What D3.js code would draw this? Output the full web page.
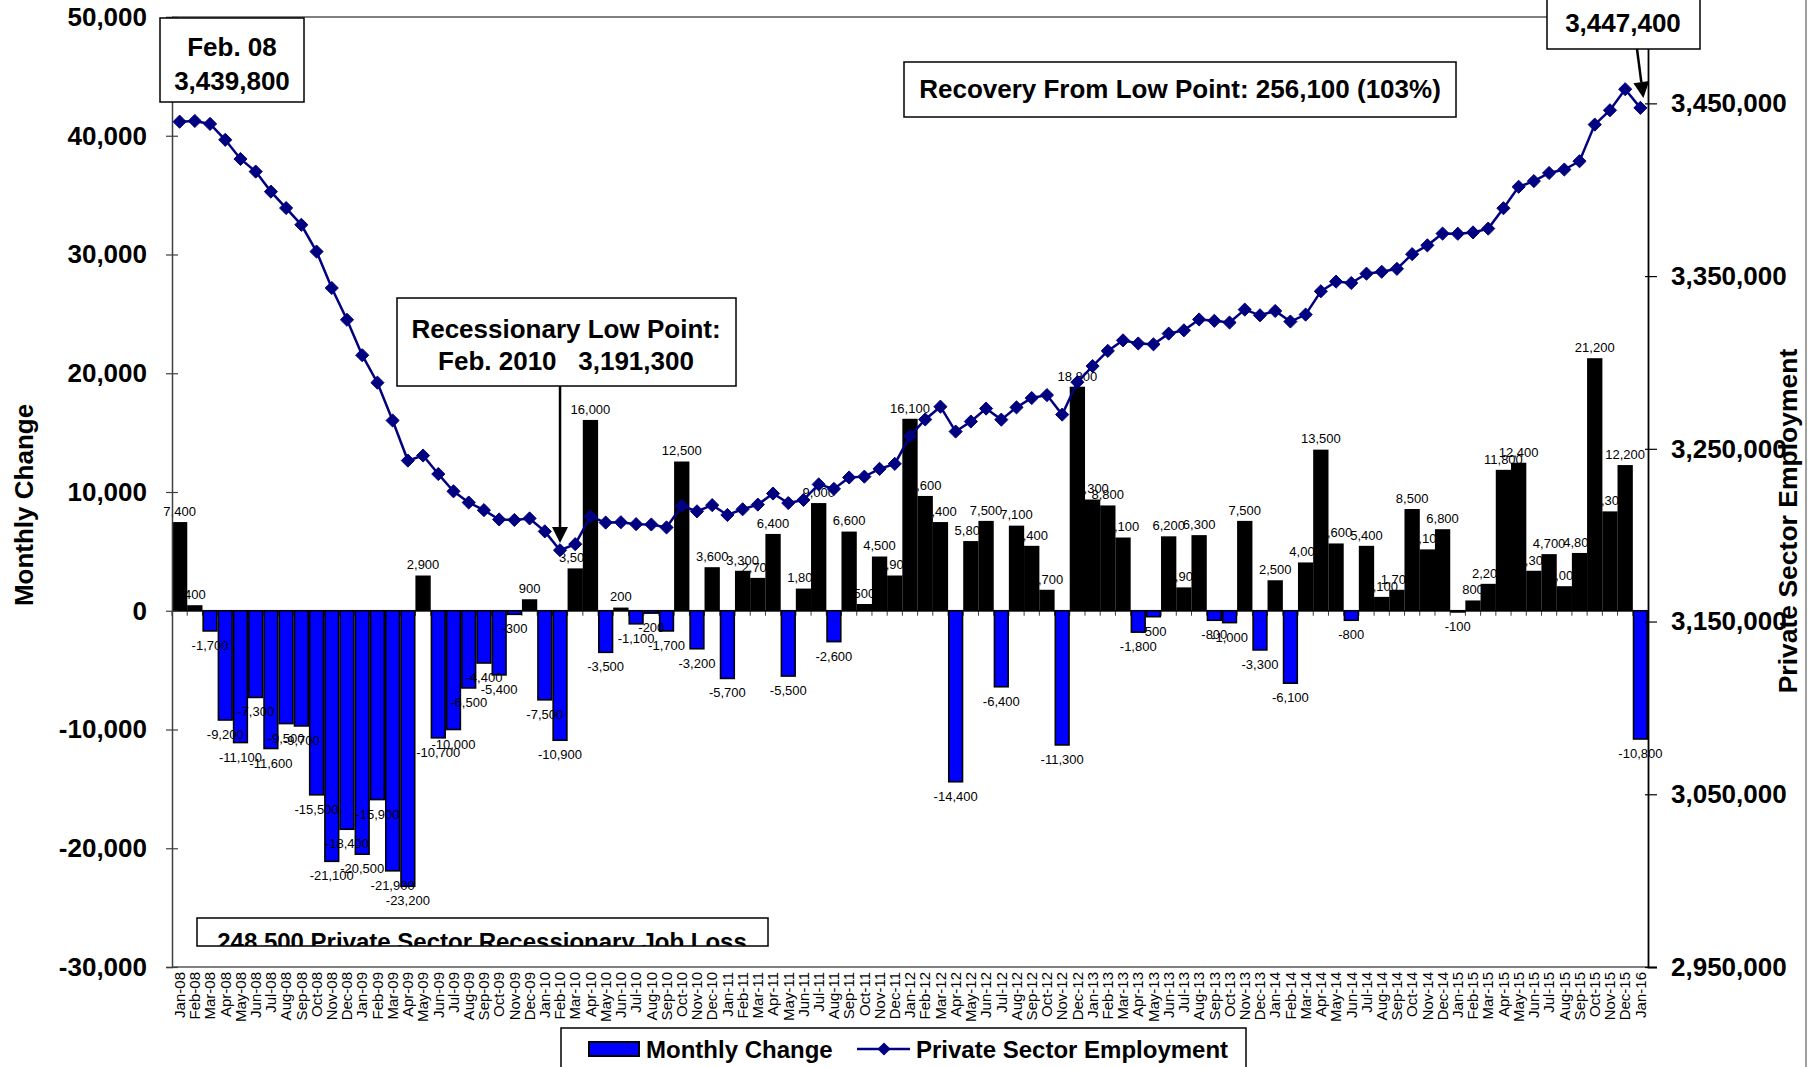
<!DOCTYPE html>
<html><head><meta charset="utf-8">
<script src="https://cdn.jsdelivr.net/npm/d3@7"></script>
<style>
body{margin:0;background:#fff;}
svg{display:block;font-family:"Liberation Sans",Arial,sans-serif;}
</style></head>
<body>
<svg id="chart" width="1814" height="1067"></svg>
<script>
const months = ["Jan-08","Feb-08","Mar-08","Apr-08","May-08","Jun-08","Jul-08","Aug-08","Sep-08","Oct-08","Nov-08","Dec-08",
"Jan-09","Feb-09","Mar-09","Apr-09","May-09","Jun-09","Jul-09","Aug-09","Sep-09","Oct-09","Nov-09","Dec-09",
"Jan-10","Feb-10","Mar-10","Apr-10","May-10","Jun-10","Jul-10","Aug-10","Sep-10","Oct-10","Nov-10","Dec-10",
"Jan-11","Feb-11","Mar-11","Apr-11","May-11","Jun-11","Jul-11","Aug-11","Sep-11","Oct-11","Nov-11","Dec-11",
"Jan-12","Feb-12","Mar-12","Apr-12","May-12","Jun-12","Jul-12","Aug-12","Sep-12","Oct-12","Nov-12","Dec-12",
"Jan-13","Feb-13","Mar-13","Apr-13","May-13","Jun-13","Jul-13","Aug-13","Sep-13","Oct-13","Nov-13","Dec-13",
"Jan-14","Feb-14","Mar-14","Apr-14","May-14","Jun-14","Jul-14","Aug-14","Sep-14","Oct-14","Nov-14","Dec-14",
"Jan-15","Feb-15","Mar-15","Apr-15","May-15","Jun-15","Jul-15","Aug-15","Sep-15","Oct-15","Nov-15","Dec-15",
"Jan-16"];

const monthlyChange = [7400,400,-1700,-9200,-11100,-7300,-11600,-9500,-9700,-15500,-21100,-18400,
-20500,-15900,-21900,-23200,2900,-10700,-10000,-6500,-4400,-5400,-300,900,
-7500,-10900,3500,16000,-3500,200,-1100,-200,-1700,12500,-3200,3600,
-5700,3300,2700,6400,-5500,1800,9000,-2600,6600,500,4500,2900,
16100,9600,7400,-14400,5800,7500,-6400,7100,5400,1700,-11300,18800,
9300,8800,6100,-1800,-500,6200,1900,6300,-800,-1000,7500,-3300,
2500,-6100,4000,13500,5600,-800,5400,1100,1700,8500,5100,6800,
-100,800,2200,11800,12400,3300,4700,2000,4800,21200,8300,12200,
-10800];

const employment = [3439400,3439800,3438100,3428900,3417800,3410500,3398900,3389400,3379700,3364200,3343100,3324700,
3304200,3288300,3266400,3243200,3246100,3235400,3225400,3218900,3214500,3209100,3208800,3209700,
3202200,3191300,3194800,3210800,3207300,3207500,3206400,3206200,3204500,3217000,3213800,3217400,
3211700,3215000,3217700,3224100,3218600,3220400,3229400,3226800,3233400,3233900,3238400,3241300,
3257400,3267000,3274400,3260000,3265800,3273300,3266900,3274000,3279400,3281100,3269800,3288600,
3297900,3306700,3312800,3311000,3310500,3316700,3318600,3324900,3324100,3323100,3330600,3327300,
3329800,3323700,3327700,3341200,3346800,3346000,3351400,3352500,3354200,3362700,3367800,3374600,
3374500,3375300,3377500,3389300,3401700,3405000,3409700,3411700,3416500,3437700,3446000,3458200,
3447400];

const leftTicks = [-30000,-20000,-10000,0,10000,20000,30000,40000,50000];
const rightTicks = [2950000,3050000,3150000,3250000,3350000,3450000];

const seriesNames = ["Monthly Change","Private Sector Employment"];
const titleLeft = "Monthly Change";
const titleRight = "Private Sector Employment";
const noteStart = ["Feb. 08","3,439,800"];
const noteLow = ["Recessionary Low Point:","Feb. 2010   3,191,300"];
const noteRecovery = "Recovery From Low Point: 256,100 (103%)";
const noteEnd = ["Jan. 16","3,447,400"];
const noteLoss = "248,500 Private Sector Recessionary Job Loss";

const loc = d3.formatLocale({decimal:".",thousands:",",grouping:[3],currency:["$",""],minus:"-"});
const fmt = loc.format(",");

const svg = d3.select("#chart");
const L=172, R=1648, T=17, B=967;
const BLUE="#0000FF", NAVY="#000080";

const x = d3.scaleBand().domain(months).range([L,R]).padding(0);
const yL = d3.scaleLinear().domain([-30000,50000]).range([B,T]);
const yR = d3.scaleLinear().domain([2950000,3500000]).range([B,T]);

// outer chart border (right)
svg.append("line").attr("x1",1806).attr("x2",1806).attr("y1",0).attr("y2",1067).attr("stroke","#808080").attr("stroke-width",1.5);

// plot frame top/bottom
svg.append("line").attr("x1",L).attr("x2",R).attr("y1",T).attr("y2",T).attr("stroke","#808080").attr("stroke-width",2);
svg.append("line").attr("x1",L).attr("x2",R).attr("y1",B).attr("y2",B).attr("stroke","#808080").attr("stroke-width",2);

const data = months.map((m,i)=>({m, v:monthlyChange[i], e:employment[i]}));

// zero category line with ticks
const y0 = yL(0);
svg.append("line").attr("x1",L).attr("x2",R).attr("y1",y0).attr("y2",y0).attr("stroke","#606060").attr("stroke-width",1.5);
svg.append("g").selectAll("line").data(months.concat(["__end"])).join("line")
  .attr("x1",(d,i)=>i<months.length?x(d):R).attr("x2",(d,i)=>i<months.length?x(d):R)
  .attr("y1",y0).attr("y2",y0+5).attr("stroke","#404040").attr("stroke-width",1);

// bars
svg.append("g").selectAll("rect").data(data).join("rect")
  .attr("x",d=>x(d.m)+0.75).attr("width",x.bandwidth()-1.5)
  .attr("y",d=>Math.min(yL(d.v),y0)).attr("height",d=>Math.abs(yL(d.v)-y0))
  .attr("fill",d=>d.v>=0?"#000":BLUE).attr("stroke","#000").attr("stroke-width",1.6);

// bar labels (on top of bars; invisible where they cross black bars)
svg.append("g").selectAll("text").data(data).join("text")
  .attr("x",d=>x(d.m)+x.bandwidth()/2)
  .attr("y",d=>d.v>=0 ? yL(d.v)-7 : yL(d.v)+19)
  .attr("text-anchor","middle").attr("font-size",13).attr("fill","#000")
  .text(d=>fmt(d.v));

// left axis
const axL = svg.append("g").attr("transform",`translate(${L},0)`)
  .call(d3.axisLeft(yL).tickValues(leftTicks).tickFormat(fmt).tickSize(6).tickPadding(19));
axL.select(".domain").attr("stroke","#404040").attr("stroke-width",1.5);
axL.selectAll(".tick line").attr("x1",6).attr("stroke","#404040").attr("stroke-width",1.2);
axL.selectAll(".tick text").attr("font-size",26).attr("font-weight","bold").attr("font-family","Liberation Sans, Arial").attr("fill","#000");

// right axis
const axR = svg.append("g").attr("transform",`translate(${R},0)`)
  .call(d3.axisRight(yR).tickValues(rightTicks).tickFormat(fmt).tickSize(9).tickPadding(14));
axR.select(".domain").attr("stroke","#000").attr("stroke-width",1.8);
axR.selectAll(".tick line").attr("x1",-3).attr("stroke","#000").attr("stroke-width",1.2);
axR.selectAll(".tick text").attr("font-size",26).attr("font-weight","bold").attr("font-family","Liberation Sans, Arial").attr("fill","#000");

// bottom category labels
const axB = svg.append("g").attr("transform",`translate(0,${B})`)
  .call(d3.axisBottom(x).tickSize(0));
axB.select(".domain").remove();
axB.selectAll(".tick text").attr("transform","rotate(-90)").attr("text-anchor","end")
  .attr("x",-5).attr("y",0).attr("dy","0.35em")
  .attr("font-size",15).attr("font-family","Liberation Sans, Arial").attr("fill","#000");

// employment line
const line = d3.line().x(d=>x(d.m)+x.bandwidth()/2).y(d=>yR(d.e));
svg.append("path").datum(data).attr("d",line).attr("fill","none").attr("stroke",NAVY).attr("stroke-width",2.5);
const diamond = d3.symbol().type(d3.symbolDiamond2).size(110);
svg.append("g").selectAll("path").data(data).join("path")
  .attr("transform",d=>`translate(${x(d.m)+x.bandwidth()/2},${yR(d.e)})`)
  .attr("d",diamond).attr("fill",NAVY).attr("stroke",NAVY).attr("stroke-width",1);

// axis titles
svg.append("text").attr("transform","translate(33,505) rotate(-90)").attr("text-anchor","middle")
  .attr("font-size",26).attr("font-weight","bold").text(titleLeft);
svg.append("text").attr("transform","translate(1797,521) rotate(-90)").attr("text-anchor","middle")
  .attr("font-size",26.5).attr("font-weight","bold").text(titleRight);

// annotation helpers
function box(x0,y0,w,h){
  return svg.append("rect").attr("x",x0).attr("y",y0).attr("width",w).attr("height",h)
    .attr("fill","#fff").attr("stroke","#000").attr("stroke-width",1.5);
}
function label(tx,ty,t,size){
  return svg.append("text").attr("x",tx).attr("y",ty).attr("text-anchor","middle")
    .attr("font-size",size||26).attr("font-weight","bold").style("white-space","pre").text(t);
}
function arrow(x1,y1,x2,y2){
  const ang=Math.atan2(y2-y1,x2-x1), hl=16, hw=8;
  const bx=x2-hl*Math.cos(ang), by=y2-hl*Math.sin(ang);
  svg.append("line").attr("x1",x1).attr("y1",y1).attr("x2",bx).attr("y2",by).attr("stroke","#000").attr("stroke-width",2.5);
  const px=-Math.sin(ang)*hw, py=Math.cos(ang)*hw;
  svg.append("path").attr("d",`M${x2},${y2}L${bx+px},${by+py}L${bx-px},${by-py}Z`).attr("fill","#000");
}

// Feb 08
box(160,18,144,84);
label(232,56,noteStart[0]);
label(232,90,noteStart[1]);

// Recessionary low
box(397,298,339,88);
label(566,338,noteLow[0]);
label(566,370,noteLow[1]);
const lowX = x("Feb-10")+x.bandwidth()/2;
arrow(lowX,386,lowX,543);

// Recovery
box(904,62,552,55);
label(1180,98,noteRecovery);

// End box (top clipped by page edge)
box(1547,-40,153,89);
label(1623,-4,noteEnd[0]);
label(1623,32,noteEnd[1]);
const endX = x("Jan-16")+x.bandwidth()/2;
arrow(1637,49,endX+3,98);

// Job loss box (text clipped by box)
const defs = svg.append("defs");
defs.append("clipPath").attr("id","lossclip").append("rect").attr("x",197).attr("y",918).attr("width",571).attr("height",28);
box(197,918,571,28);
svg.append("text").attr("x",482).attr("y",950).attr("text-anchor","middle").attr("font-size",24)
  .attr("font-weight","bold").attr("clip-path","url(#lossclip)").text(noteLoss);

// legend
box(561,1028,685,60);
svg.append("rect").attr("x",589).attr("y",1042).attr("width",50).attr("height",14).attr("fill",BLUE).attr("stroke","#000").attr("stroke-width",2);
svg.append("text").attr("x",646).attr("y",1058).attr("font-size",24).attr("font-weight","bold").text(seriesNames[0]);
svg.append("line").attr("x1",857).attr("x2",910).attr("y1",1049).attr("y2",1049).attr("stroke",NAVY).attr("stroke-width",2.5);
svg.append("path").attr("transform","translate(884,1049)").attr("d",diamond).attr("fill",NAVY);
svg.append("text").attr("x",916).attr("y",1058).attr("font-size",24).attr("font-weight","bold").text(seriesNames[1]);
</script>
</body></html>
